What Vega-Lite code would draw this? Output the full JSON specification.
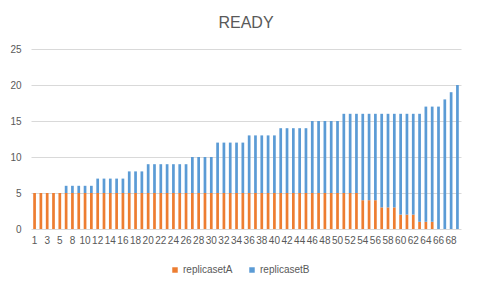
{
  "$schema": "https://vega.github.io/schema/vega-lite/v6.json",
  "autosize": "none",
  "width": 430,
  "height": 180,
  "padding": {"left": 31, "top": 49, "right": 17, "bottom": 62},
  "background": "white",
  "title": {"text": "READY", "fontSize": 16, "fontWeight": "normal", "color": "#595959", "font": "Liberation Sans", "offset": 13, "anchor": "middle"},
  "data": {"values": [
    {"x":1,"replicasetA":5,"replicasetB":0},
    {"x":2,"replicasetA":5,"replicasetB":0},
    {"x":3,"replicasetA":5,"replicasetB":0},
    {"x":4,"replicasetA":5,"replicasetB":0},
    {"x":5,"replicasetA":5,"replicasetB":0},
    {"x":6,"replicasetA":5,"replicasetB":1},
    {"x":8,"replicasetA":5,"replicasetB":1},
    {"x":9,"replicasetA":5,"replicasetB":1},
    {"x":10,"replicasetA":5,"replicasetB":1},
    {"x":11,"replicasetA":5,"replicasetB":1},
    {"x":12,"replicasetA":5,"replicasetB":2},
    {"x":13,"replicasetA":5,"replicasetB":2},
    {"x":14,"replicasetA":5,"replicasetB":2},
    {"x":15,"replicasetA":5,"replicasetB":2},
    {"x":16,"replicasetA":5,"replicasetB":2},
    {"x":17,"replicasetA":5,"replicasetB":3},
    {"x":18,"replicasetA":5,"replicasetB":3},
    {"x":19,"replicasetA":5,"replicasetB":3},
    {"x":20,"replicasetA":5,"replicasetB":4},
    {"x":21,"replicasetA":5,"replicasetB":4},
    {"x":22,"replicasetA":5,"replicasetB":4},
    {"x":23,"replicasetA":5,"replicasetB":4},
    {"x":24,"replicasetA":5,"replicasetB":4},
    {"x":25,"replicasetA":5,"replicasetB":4},
    {"x":26,"replicasetA":5,"replicasetB":4},
    {"x":27,"replicasetA":5,"replicasetB":5},
    {"x":28,"replicasetA":5,"replicasetB":5},
    {"x":29,"replicasetA":5,"replicasetB":5},
    {"x":30,"replicasetA":5,"replicasetB":5},
    {"x":31,"replicasetA":5,"replicasetB":7},
    {"x":32,"replicasetA":5,"replicasetB":7},
    {"x":33,"replicasetA":5,"replicasetB":7},
    {"x":34,"replicasetA":5,"replicasetB":7},
    {"x":35,"replicasetA":5,"replicasetB":7},
    {"x":36,"replicasetA":5,"replicasetB":8},
    {"x":37,"replicasetA":5,"replicasetB":8},
    {"x":38,"replicasetA":5,"replicasetB":8},
    {"x":39,"replicasetA":5,"replicasetB":8},
    {"x":40,"replicasetA":5,"replicasetB":8},
    {"x":41,"replicasetA":5,"replicasetB":9},
    {"x":42,"replicasetA":5,"replicasetB":9},
    {"x":43,"replicasetA":5,"replicasetB":9},
    {"x":44,"replicasetA":5,"replicasetB":9},
    {"x":45,"replicasetA":5,"replicasetB":9},
    {"x":46,"replicasetA":5,"replicasetB":10},
    {"x":47,"replicasetA":5,"replicasetB":10},
    {"x":48,"replicasetA":5,"replicasetB":10},
    {"x":49,"replicasetA":5,"replicasetB":10},
    {"x":50,"replicasetA":5,"replicasetB":10},
    {"x":51,"replicasetA":5,"replicasetB":11},
    {"x":52,"replicasetA":5,"replicasetB":11},
    {"x":53,"replicasetA":5,"replicasetB":11},
    {"x":54,"replicasetA":4,"replicasetB":12},
    {"x":55,"replicasetA":4,"replicasetB":12},
    {"x":56,"replicasetA":4,"replicasetB":12},
    {"x":57,"replicasetA":3,"replicasetB":13},
    {"x":58,"replicasetA":3,"replicasetB":13},
    {"x":59,"replicasetA":3,"replicasetB":13},
    {"x":60,"replicasetA":2,"replicasetB":14},
    {"x":61,"replicasetA":2,"replicasetB":14},
    {"x":62,"replicasetA":2,"replicasetB":14},
    {"x":63,"replicasetA":1,"replicasetB":15},
    {"x":64,"replicasetA":1,"replicasetB":16},
    {"x":65,"replicasetA":1,"replicasetB":16},
    {"x":66,"replicasetA":0,"replicasetB":17},
    {"x":67,"replicasetA":0,"replicasetB":18},
    {"x":68,"replicasetA":0,"replicasetB":19},
    {"x":69,"replicasetA":0,"replicasetB":20}
  ]},
  "transform": [{"fold": ["replicasetA", "replicasetB"], "as": ["series", "value"]}],
  "mark": {"type": "bar"},
  "encoding": {
    "x": {
      "field": "x", "type": "ordinal", "sort": "ascending",
      "scale": {"paddingInner": 0.57, "paddingOuter": 0.35},
      "axis": {
        "title": null, "ticks": false, "domain": false, "grid": false,
        "labelAngle": 0, "labelPadding": 6, "labelFontSize": 10, "labelColor": "#595959",
        "labelFont": "Liberation Sans", "labelOverlap": false,
        "values": [1,3,5,8,10,12,14,16,18,20,22,24,26,28,30,32,34,36,38,40,42,44,46,48,50,52,54,56,58,60,62,64,66,68]
      }
    },
    "y": {
      "field": "value", "type": "quantitative", "stack": "zero",
      "scale": {"domain": [0, 25]},
      "axis": {
        "title": null, "values": [0,5,10,15,20,25], "ticks": false, "domain": false,
        "gridColor": "#D9D9D9", "gridWidth": 1, "labelPadding": 10, "labelFontSize": 10,
        "labelColor": "#595959", "labelFont": "Liberation Sans"
      }
    },
    "color": {
      "field": "series", "type": "nominal",
      "scale": {"domain": ["replicasetA", "replicasetB"], "range": ["#ED7D31", "#5B9BD5"]},
      "legend": {
        "title": null, "orient": "none", "legendX": 139, "legendY": 216, "direction": "horizontal", "symbolType": "square",
        "symbolSize": 30, "symbolStrokeWidth": 0, "labelFontSize": 10, "labelColor": "#595959",
        "labelFont": "Liberation Sans", "columnPadding": 14, "labelOffset": 3
      }
    },
    "order": {"field": "series", "sort": "ascending"}
  },
  "config": {"view": {"stroke": null}, "axis": {"gridColor": "#D9D9D9"}}
}
